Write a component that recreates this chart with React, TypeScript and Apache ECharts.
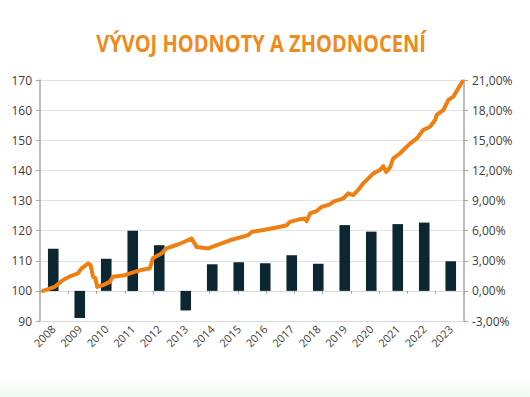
import React, { useEffect, useRef } from "react";
import * as echarts from "echarts";

const TITLE = "VÝVOJ HODNOTY A ZHODNOCENÍ";
const years = ["2008", "2009", "2010", "2011", "2012", "2013", "2014", "2015", "2016", "2017", "2018", "2019", "2020", "2021", "2022", "2023"];
const annualReturn = [4.2, -2.7, 3.2, 6.0, 4.55, -1.95, 2.65, 2.85, 2.75, 3.55, 2.7, 6.55, 5.9, 6.65, 6.8, 2.95];

const lineTime = [
  2008.11, 2008.55, 2008.87, 2009.18, 2009.43, 2009.56, 2009.81, 2009.91, 2010.0, 2010.09,
  2010.16, 2010.38, 2010.63, 2010.75, 2011.2, 2011.57, 2011.89, 2012.14, 2012.26, 2012.58,
  2012.77, 2013.21, 2013.58, 2013.72, 2013.91, 2014.35, 2014.67, 2015.17, 2015.86, 2015.99,
  2016.43, 2017.06, 2017.31, 2017.43, 2017.81, 2018.0, 2018.06, 2018.19, 2018.44, 2018.63,
  2018.94, 2019.07, 2019.45, 2019.63, 2019.82, 2020.01, 2020.2, 2020.58, 2020.83, 2020.95,
  2021.06, 2021.21, 2021.33, 2021.58, 2021.96, 2022.22, 2022.46, 2022.72, 2022.91, 2022.97,
  2023.22, 2023.41, 2023.6, 2023.78, 2023.94,
];
const lineValue = [
  100.0, 101.3, 103.6, 105.0, 105.8, 107.4, 109.1, 108.5, 104.7, 104.2,
  101.3, 101.9, 103.0, 104.7, 105.2, 106.3, 107.1, 107.4, 110.8, 112.4,
  114.1, 115.4, 116.8, 117.4, 114.6, 114.1, 115.2, 116.8, 118.5, 119.6,
  120.2, 121.3, 121.8, 122.9, 123.8, 124.0, 123.1, 125.7, 126.5, 127.9,
  128.7, 129.6, 130.7, 132.4, 131.8, 133.5, 135.7, 139.0, 140.1, 141.4,
  139.5, 141.0, 144.0, 145.6, 148.9, 150.6, 153.4, 154.5, 156.7, 158.4,
  160.0, 163.4, 164.5, 167.2, 169.5,
];

const leftMin = 90, leftMax = 170, leftStep = 10;
const rightMin = -3, rightMax = 21, rightStep = 3;
const startYear = 2008, spanYears = 16, lineTickCount = 15;

const ORANGE = "#ef7f10";
const NAVY = "#0c2731";
const AXIS_GRAY = "#a6a6a6";
const LABEL = "#404040";
const FONT = "'Open Sans', 'Noto Sans', sans-serif";

export default function App() {
  const ref = useRef<HTMLDivElement>(null);
  useEffect(() => {
    if (!ref.current) return;
    const chart = echarts.init(ref.current, undefined, { renderer: "svg" });
    const lineData = lineTime.map((t, i) => [t - startYear, lineValue[i]]);
    chart.setOption({
      animation: false,
      backgroundColor: "#ffffff",
      graphic: [
        {
          type: "rect",
          left: 0,
          top: 374,
          shape: { width: 530, height: 23 },
          silent: true,
          style: {
            fill: new echarts.graphic.LinearGradient(0, 0, 0, 1, [
              { offset: 0, color: "rgba(255,255,255,0)" },
              { offset: 1, color: "rgba(232,245,237,0.7)" },
            ]),
          },
        },
        {
          type: "text",
          x: 261,
          y: 42,
          scaleX: 0.835,
          silent: true,
          style: {
            text: TITLE,
            x: 0,
            y: 0,
            align: "center",
            verticalAlign: "middle",
            fill: "#f08a1c",
            fontSize: 24,
            fontWeight: "bold",
            fontFamily: FONT,
          },
        },
      ],
      grid: { left: 40, right: 66, top: 80, bottom: 76, containLabel: false },
      xAxis: [
        {
          type: "category",
          data: years,
          position: "bottom",
          axisLine: { onZero: false, lineStyle: { color: "#d9d9d9", width: 1 } },
          axisTick: { show: false },
          axisLabel: { rotate: 45, color: LABEL, fontSize: 11, fontFamily: FONT, margin: 6, interval: 0 },
          splitLine: { show: false },
        },
        {
          type: "value",
          min: 0,
          max: spanYears,
          interval: spanYears / lineTickCount,
          position: "bottom",
          axisLine: { show: true, onZero: true, onZeroAxisIndex: 1, lineStyle: { color: "#d9d9d9", width: 1 } },
          axisTick: { show: true, length: 3, lineStyle: { color: AXIS_GRAY } },
          axisLabel: { show: false },
          splitLine: { show: false },
        },
      ],
      yAxis: [
        {
          type: "value",
          min: leftMin,
          max: leftMax,
          interval: leftStep,
          position: "left",
          axisLine: { show: true, lineStyle: { color: AXIS_GRAY, width: 1.5 } },
          axisTick: { show: true, length: 4, lineStyle: { color: AXIS_GRAY } },
          axisLabel: { color: LABEL, fontSize: 12, fontFamily: FONT, margin: 8 },
          splitLine: { show: true, lineStyle: { color: "#e3e3e3", width: 1 } },
        },
        {
          type: "value",
          min: rightMin,
          max: rightMax,
          interval: rightStep,
          position: "right",
          axisLine: { show: true, lineStyle: { color: AXIS_GRAY, width: 1.5 } },
          axisTick: { show: true, length: 4, lineStyle: { color: AXIS_GRAY } },
          axisLabel: {
            color: LABEL,
            fontSize: 12,
            fontFamily: FONT,
            margin: 8,
            formatter: (v: number) => v.toFixed(2).replace(".", ",") + "%",
          },
          splitLine: { show: false },
        },
      ],
      series: [
        {
          type: "bar",
          name: "Zhodnocení",
          xAxisIndex: 0,
          yAxisIndex: 1,
          data: annualReturn,
          barWidth: "40%",
          itemStyle: { color: NAVY },
          z: 2,
        },
        {
          type: "line",
          name: "Hodnota",
          xAxisIndex: 1,
          yAxisIndex: 0,
          data: lineData,
          showSymbol: false,
          lineStyle: { color: ORANGE, width: 4, join: "round", cap: "round" },
          z: 3,
        },
      ],
    });
    return () => chart.dispose();
  }, []);
  return <div ref={ref} style={{ position: "fixed", left: 0, top: 0, width: 530, height: 397 }} />;
}
